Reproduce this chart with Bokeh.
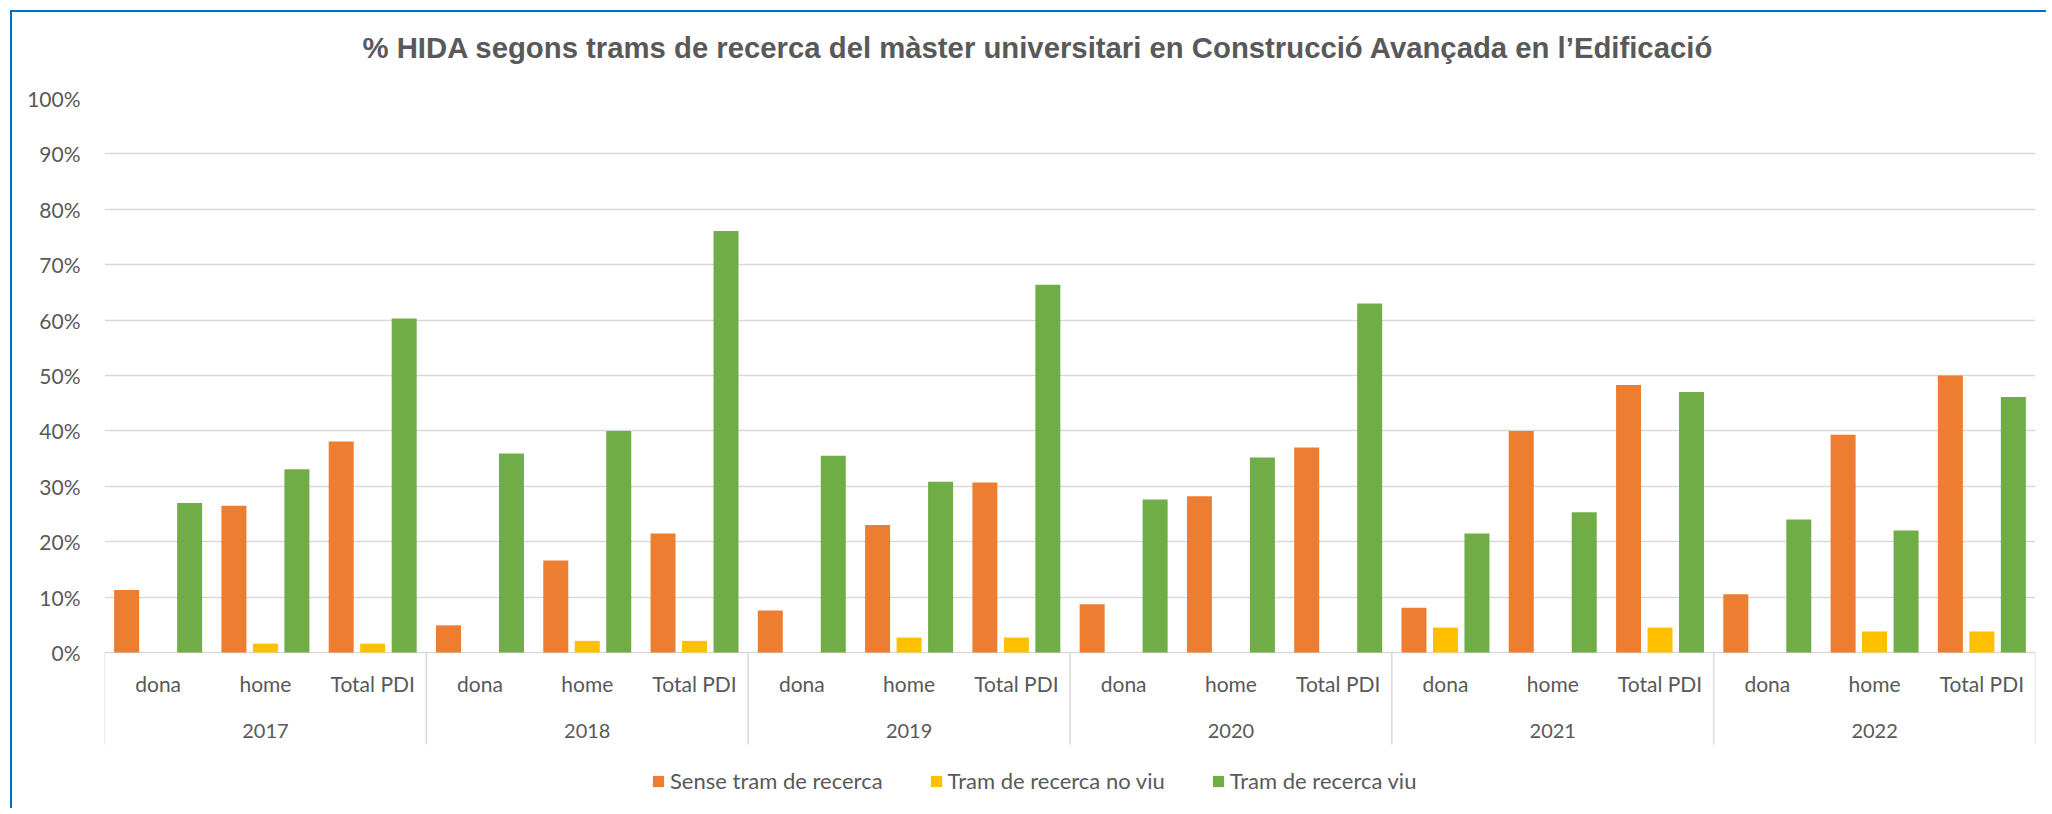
from bokeh.plotting import figure
from bokeh.models import (ColumnDataSource, FactorRange, Range1d, FixedTicker,
                          PrintfTickFormatter, Title)
from bokeh.transform import dodge
from bokeh.core.properties import value
from bokeh.embed import file_html
from bokeh.resources import INLINE

# ---------------- data ----------------
title_text = "% HIDA segons trams de recerca del màster universitari en Construcció Avançada en l\u2019Edificació"
years = ["2017", "2018", "2019", "2020", "2021", "2022"]
groups = ["dona", "home", "Total PDI"]
series_names = ["Sense tram de recerca", "Tram de recerca no viu", "Tram de recerca viu"]
series_colors = ["#ED7D31", "#FFC000", "#70AD47"]

# values in %, order: year -> dona, home, Total PDI
sense_tram = [11.3, 26.5, 38.1,
              4.9, 16.6, 21.5,
              7.6, 23.0, 30.7,
              8.7, 28.2, 37.0,
              8.1, 40.0, 48.3,
              10.5, 39.3, 50.0]
tram_no_viu = [0.0, 1.6, 1.6,
               0.0, 2.1, 2.1,
               0.0, 2.7, 2.7,
               0.0, 0.0, 0.0,
               4.5, 0.0, 4.5,
               0.0, 3.8, 3.8]
tram_viu = [27.0, 33.1, 60.3,
            35.9, 40.0, 76.1,
            35.5, 30.8, 66.4,
            27.6, 35.2, 63.0,
            21.5, 25.3, 47.0,
            24.0, 22.0, 46.1]
y_ticks = [0, 10, 20, 30, 40, 50, 60, 70, 80, 90, 100]

# ---------------- styling constants ----------------
TXT = "#595959"
GRID = "#D9D9D9"
BLUE = "#0070C0"
FONT = "Lato"
W, H = 2036, 798
BORDER_L, BORDER_R, BORDER_T, BORDER_B = 92, 13, 86, 0
Y_MAX = 100
PLOT_PX = 554
px_per_unit = PLOT_PX / 100.0
Y_MIN = -(H - BORDER_T - PLOT_PX) / px_per_unit

factors = [(y, g) for y in years for g in groups]

p = figure(width=W, height=H, output_backend="svg", toolbar_location=None,
           x_range=FactorRange(*factors, group_padding=0, factor_padding=0,
                               subgroup_padding=0, range_padding=0),
           y_range=Range1d(Y_MIN, Y_MAX),
           min_border_left=BORDER_L, min_border_right=BORDER_R,
           min_border_top=BORDER_T, min_border_bottom=BORDER_B,
           background_fill_color="white", border_fill_color="white")
p.outline_line_color = None
# chart container border (blue, top and left edges)
p.styles = {"margin-left": "10px", "margin-top": "10px",
            "border-left": "2px solid " + BLUE, "border-top": "2px solid " + BLUE}

src = ColumnDataSource(dict(x=factors, s0=sense_tram, s1=tram_no_viu, s2=tram_viu))
bar_w = 0.233
off = 0.2935
for i, (col, name, color) in enumerate(zip(["s0", "s1", "s2"], series_names, series_colors)):
    p.vbar(x=dodge("x", (i - 1) * off, range=p.x_range), top=col, bottom=0,
           width=bar_w, source=src, fill_color=color, line_color=None,
           legend_label=name)

# hide default x axis; labels drawn in the frame under the zero line
p.xaxis.visible = False
p.xgrid.visible = False

# y axis
p.yaxis.ticker = FixedTicker(ticks=y_ticks)
p.yaxis.formatter = PrintfTickFormatter(format="%d%%")
p.yaxis.axis_line_color = None
p.yaxis.major_tick_line_color = None
p.yaxis.minor_tick_line_color = None
p.yaxis.major_tick_out = 0
p.yaxis.major_label_standoff = 24
p.yaxis.major_label_text_font = FONT
p.yaxis.major_label_text_font_size = "21px"
p.yaxis.major_label_text_color = TXT
p.ygrid.grid_line_color = GRID
p.ygrid.grid_line_width = 1.5

# category labels
lab_y_cat = -31 / px_per_unit
lab_y_year = -78 / px_per_unit
sep_bottom = -92 / px_per_unit
cat_src = ColumnDataSource(dict(x=factors, text=[g for (_, g) in factors],
                                y=[lab_y_cat] * len(factors)))
p.text(x="x", y="y", text="text", source=cat_src, text_font=value(FONT),
       text_font_size="21px", text_color=TXT, text_align="center",
       text_baseline="middle")
year_src = ColumnDataSource(dict(x=[(y, groups[1]) for y in years], text=years,
                                 y=[lab_y_year] * len(years)))
p.text(x="x", y="y", text="text", source=year_src, text_font=value(FONT),
       text_font_size="20px", text_color=TXT, text_align="center",
       text_baseline="middle")

sep_x = [(y, groups[0], -0.5) for y in years] + [(years[-1], groups[-1], 0.5)]
sep_src = ColumnDataSource(dict(x=sep_x, y0=[0] * len(sep_x), y1=[sep_bottom] * len(sep_x)))
p.segment(x0="x", y0="y0", x1="x", y1="y1", source=sep_src,
          line_color=GRID, line_width=1.5)

# title (a thin spacer title keeps the real title well above the frame)
p.add_layout(Title(text=" ", text_font_size="1px", standoff=32), "above")
p.title.text = title_text
p.title.text_font = "Liberation Sans"
p.title.text_font_style = "bold"
p.title.text_font_size = "29.3px"
p.title.text_color = TXT
p.title.align = "left"
p.title.offset = 258
p.title.standoff = 0

# legend
lg = p.legend[0]
lg.orientation = "horizontal"
lg.location = (547, 16)
lg.label_text_font = FONT
lg.label_text_font_size = "22px"
lg.label_text_color = TXT
lg.glyph_width = 14
lg.glyph_height = 14
lg.label_standoff = 5
lg.spacing = 46
lg.padding = 0
lg.margin = 0
lg.border_line_color = None
lg.background_fill_alpha = 0

open("out.html", "w").write(file_html(p, INLINE))
